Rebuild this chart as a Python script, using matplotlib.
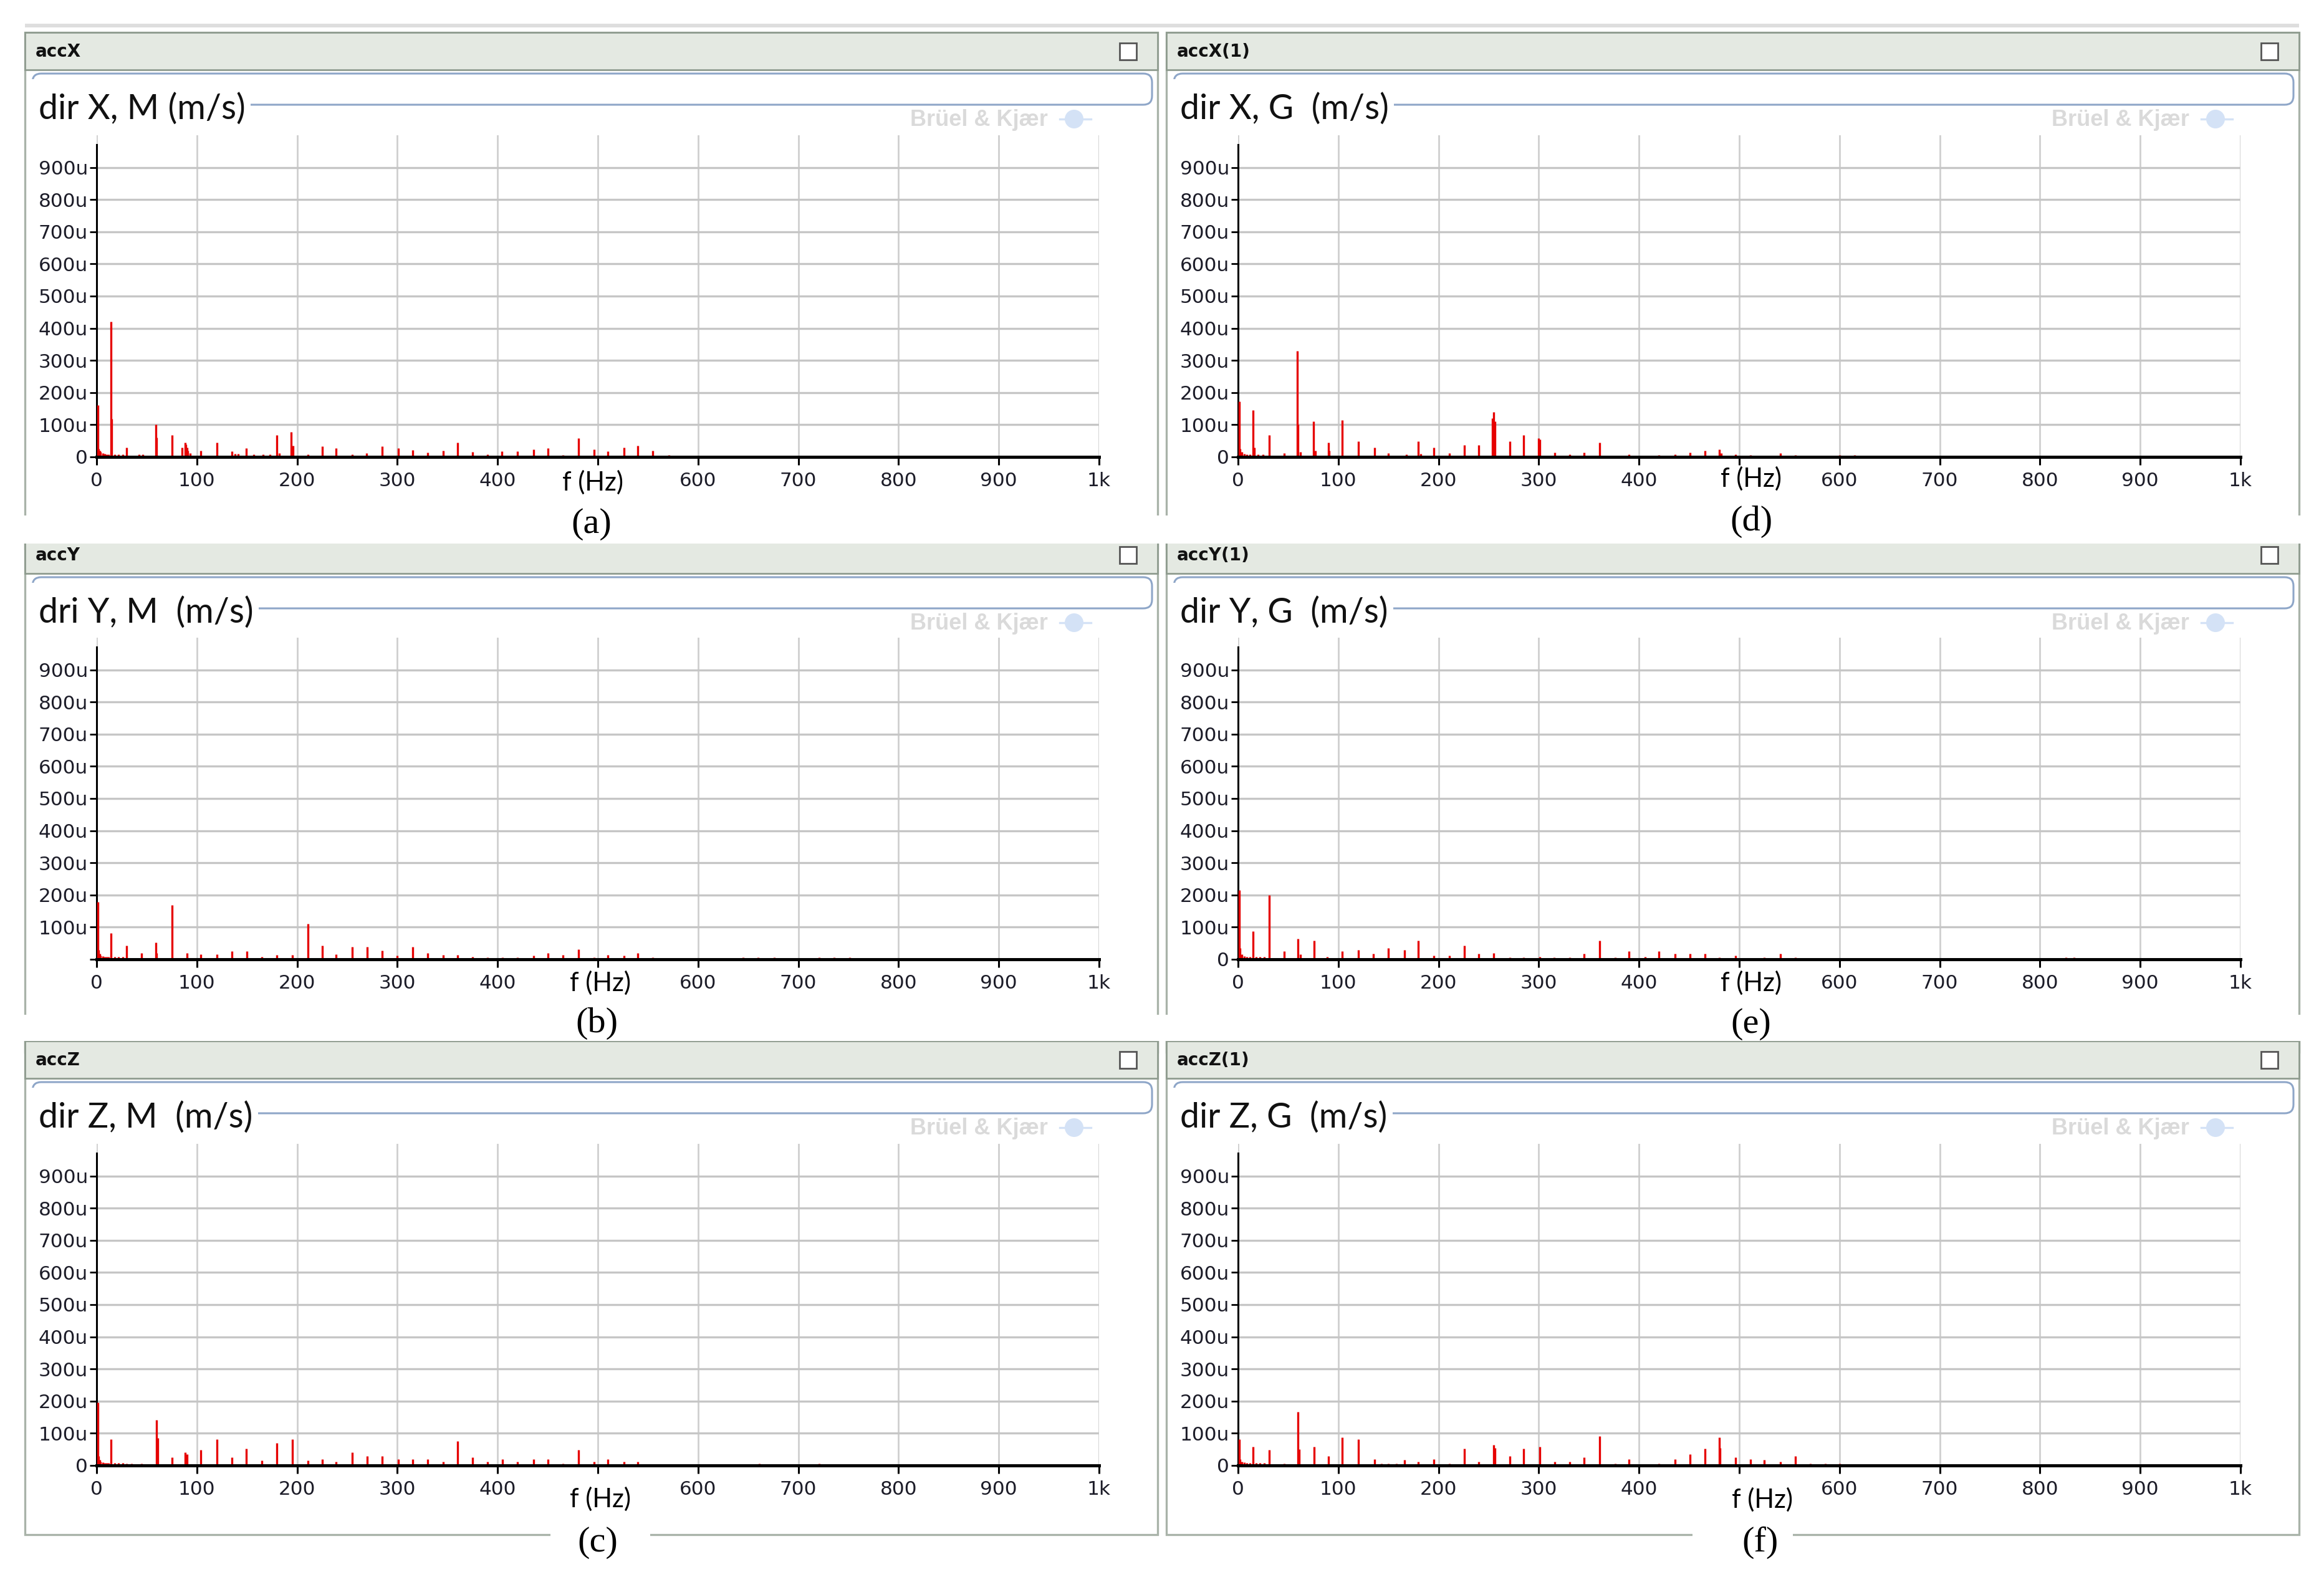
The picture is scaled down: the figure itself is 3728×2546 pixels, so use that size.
import matplotlib
matplotlib.use('Agg')
import matplotlib.pyplot as plt
from matplotlib.patches import Rectangle, FancyBboxPatch, Circle

# spectra: frequency (Hz) and amplitude (u m/s)
f_a = [1, 2, 3, 4, 6, 8, 10, 12, 14, 15, 18, 22, 26, 30, 42, 46, 59, 60, 75, 85,
       88, 89, 90, 91, 93, 104, 120, 135, 138, 141, 149, 157, 166, 173, 180, 182, 194, 196, 211, 225,
       239, 255, 269, 285, 301, 315, 330, 346, 360, 375, 390, 404, 420, 436, 450, 465, 481, 496, 510, 526,
       540, 555, 571]
amp_a = [160, 25, 20, 15, 12, 10, 8, 8, 420, 118, 8, 8, 8, 30, 8, 8, 100, 60, 67, 30,
         44, 38, 30, 20, 12, 20, 44, 17, 10, 10, 27, 8, 8, 8, 67, 12, 78, 35, 8, 32,
         27, 8, 12, 32, 27, 22, 14, 20, 44, 15, 8, 18, 18, 23, 28, 6, 59, 24, 18, 30,
         35, 20, 5]

f_b = [1, 2, 3, 4, 6, 8, 10, 12, 14, 18, 22, 26, 30, 45, 59, 60, 75, 90, 104, 120,
       135, 150, 165, 180, 195, 211, 225, 239, 255, 270, 285, 300, 315, 330, 346, 360, 375, 390, 405, 420,
       436, 450, 465, 481, 496, 510, 526, 540, 555, 645, 660, 676, 721, 736, 751]
amp_b = [178, 30, 18, 12, 10, 8, 8, 8, 81, 8, 8, 8, 43, 20, 53, 20, 168, 20, 15, 15,
         25, 25, 8, 14, 14, 111, 43, 15, 38, 38, 27, 12, 38, 20, 14, 14, 8, 6, 5, 5,
         12, 20, 14, 31, 6, 14, 12, 20, 5, 6, 5, 5, 5, 5, 5]

f_c = [1, 2, 3, 4, 6, 8, 10, 12, 14, 18, 22, 26, 30, 35, 45, 60, 61, 75, 88, 90,
       104, 120, 135, 149, 165, 180, 195, 211, 225, 239, 255, 270, 285, 301, 315, 330, 346, 360, 375, 390,
       405, 420, 436, 450, 465, 481, 496, 510, 526, 540, 661, 721]
amp_c = [196, 30, 18, 12, 10, 8, 8, 8, 81, 8, 8, 8, 6, 5, 5, 142, 85, 25, 40, 35,
         49, 81, 25, 53, 15, 69, 81, 15, 20, 12, 40, 30, 30, 20, 20, 20, 12, 75, 25, 12,
         20, 12, 20, 20, 6, 49, 12, 20, 12, 12, 5, 5]

f_d = [1, 2, 4, 6, 9, 12, 15, 16, 20, 25, 31, 46, 59, 60, 62, 75, 77, 90, 91, 104,
       120, 136, 150, 168, 180, 182, 195, 211, 226, 240, 254, 255, 256, 271, 285, 300, 301, 316, 331, 345,
       361, 390, 420, 436, 451, 466, 480, 482, 496, 511, 541, 556, 600, 615]
amp_d = [172, 25, 15, 10, 8, 8, 145, 30, 8, 8, 67, 12, 330, 100, 15, 110, 20, 44, 20, 115,
         48, 30, 12, 8, 48, 10, 30, 12, 37, 37, 120, 139, 110, 48, 67, 59, 55, 14, 8, 14,
         44, 8, 6, 8, 14, 20, 24, 12, 8, 6, 12, 6, 6, 5]

f_e = [1, 2, 4, 6, 9, 12, 15, 18, 22, 26, 31, 46, 60, 62, 76, 89, 104, 120, 135, 150,
       166, 180, 195, 211, 226, 240, 255, 271, 285, 301, 315, 331, 345, 361, 376, 390, 406, 420, 436, 451,
       466, 480, 496, 525, 541, 556, 826, 834]
amp_e = [215, 35, 15, 10, 8, 8, 87, 8, 8, 8, 200, 25, 64, 15, 59, 8, 25, 30, 18, 35,
         30, 59, 12, 12, 42, 18, 20, 6, 5, 8, 6, 5, 18, 59, 6, 25, 8, 25, 18, 18,
         18, 6, 12, 5, 18, 5, 5, 5]

f_f = [1, 2, 4, 6, 9, 12, 15, 18, 22, 26, 31, 46, 60, 61, 76, 90, 104, 120, 136, 143,
       150, 158, 166, 180, 195, 211, 226, 240, 255, 256, 271, 285, 301, 316, 331, 345, 361, 376, 390, 420,
       436, 451, 466, 480, 481, 496, 511, 525, 541, 556, 571, 586, 600]
amp_f = [81, 20, 12, 10, 8, 8, 59, 8, 8, 8, 49, 5, 166, 50, 59, 30, 87, 81, 20, 6,
         6, 6, 18, 12, 20, 5, 53, 12, 63, 55, 30, 53, 59, 12, 12, 25, 91, 6, 20, 6,
         20, 35, 53, 87, 55, 25, 20, 18, 12, 30, 6, 6, 6]

headers = ['accX', 'accY', 'accZ', 'accX(1)', 'accY(1)', 'accZ(1)']
titles = ['dir X, M (m/s)', 'dri Y, M  (m/s)', 'dir Z, M  (m/s)',
          'dir X, G  (m/s)', 'dir Y, G  (m/s)', 'dir Z, G  (m/s)']
captions = ['(a)', '(b)', '(c)', '(d)', '(e)', '(f)']
xticks = [0, 100, 200, 300, 400, 500, 600, 700, 800, 900, 1000]
xticklabels = ['0', '100', '200', '300', '400', '', '600', '700', '800', '900', '1k']
yticks = [0, 100, 200, 300, 400, 500, 600, 700, 800, 900]
yticklabels = ['0', '100u', '200u', '300u', '400u', '500u', '600u', '700u', '800u', '900u']

spectra = [(f_a, amp_a), (f_b, amp_b), (f_c, amp_c), (f_d, amp_d), (f_e, amp_e), (f_f, amp_f)]

W, H = 3728, 2546
fig = plt.figure(figsize=(W / 200, H / 200), dpi=200)
bg = fig.add_axes([0, 0, 1, 1])
bg.set_xlim(0, W)
bg.set_ylim(H, 0)
bg.axis('off')

col_dx = [0, 1831]
row_dy = [0, 808, 1618]
axes_dy = [0, 806, 1618]
fhz_pos = [(951, 774), (963, 1577), (963, 2405), (2809, 768), (2809, 1577), (2827, 2406)]
cap_pos = [(949, 841), (957, 1642), (959, 2475), (2809, 837), (2809, 1643), (2824, 2475)]
cap_gap = [None, None, (883, 1043), None, None, (2715, 2876)]

bg.add_patch(Rectangle((40, 38), 3648, 6, facecolor='#dedede', edgecolor='none'))

for i in range(6):
    c, r = i // 3, i % 3
    dx, dy = col_dx[c], row_dy[r]
    box_bottom = 2462 if r == 2 else 880 + dy
    bg.add_patch(Rectangle((40 + dx, 52 + dy), 1817, box_bottom - 52 - dy,
                           facecolor='white', edgecolor='#a9b3a9', lw=1.2, zorder=1))
    bg.add_patch(Rectangle((40 + dx, 52 + dy), 1817, 60,
                           facecolor='#e4e9e2', edgecolor='#8f9c8f', lw=1.0, zorder=2))
    bg.text(57 + dx, 83 + dy, headers[i], fontsize=10, fontweight='bold',
            family='DejaVu Sans', va='center', ha='left', color='#111111', zorder=3)
    bg.add_patch(Rectangle((1796 + dx, 69 + dy), 27, 27, facecolor='white',
                           edgecolor='#555555', lw=1.0, zorder=3))
    # rounded title frame
    bg.add_patch(FancyBboxPatch((52 + dx, 118 + dy), 1796, 50,
                                boxstyle='round,pad=0,rounding_size=14',
                                facecolor='none', edgecolor='#8ea6c8', lw=1.1, zorder=2))
    bg.add_patch(Rectangle((46 + dx, 127 + dy), 14, 60, facecolor='white',
                           edgecolor='none', zorder=3))
    bg.text(62 + dx, 175 + dy, titles[i], fontsize=20, family='Lato', color='#111111',
            va='center', ha='left', zorder=4,
            bbox=dict(boxstyle='square,pad=0.15', facecolor='white', edgecolor='none'))
    # watermark
    bg.text(1570 + dx, 193 + dy, 'Brüel & Kjær', fontsize=13, fontweight='bold',
            family='Liberation Sans', color='#dadada', ha='center', va='center', zorder=3)
    bg.add_patch(Circle((1723 + dx, 191 + dy), 15, facecolor='#d4e2f6',
                        edgecolor='none', zorder=3))
    bg.plot([1700 + dx, 1750 + dx], [191 + dy, 191 + dy], color='#d4e2f6', lw=1.2, zorder=3)

# white caption strips between rows
bg.add_patch(Rectangle((0, 827), W, 45, facecolor='white', edgecolor='none', zorder=5))
bg.add_patch(Rectangle((0, 1628), W, 42, facecolor='white', edgecolor='none', zorder=5))

for i in range(6):
    c, r = i // 3, i % 3
    if cap_gap[i] is not None:
        x0, x1 = cap_gap[i]
        bg.add_patch(Rectangle((x0, 2440), x1 - x0, 40, facecolor='white',
                               edgecolor='none', zorder=5))
    bg.text(cap_pos[i][0], cap_pos[i][1], captions[i], fontsize=21,
            family='Liberation Serif', ha='center', va='center', zorder=6)
    bg.text(fhz_pos[i][0], fhz_pos[i][1], 'f (Hz)', fontsize=15, family='Lato',
            ha='center', va='center', zorder=6)

    zero = 733 + axes_dy[r]
    ax = fig.add_axes([(155 + col_dx[c]) / W, 1 - zero / H, 1608 / W, 516 / H])
    ax.set_facecolor('none')
    freqs, amps = spectra[i]
    ax.vlines(freqs, 0, amps, colors='#e60000', lw=1.2, zorder=3)
    ax.set_xlim(0, 1000)
    ax.set_ylim(0, 1000)
    ax.set_xticks(xticks)
    ax.set_xticklabels(xticklabels)
    ax.set_yticks(yticks)
    ylab = list(yticklabels)
    if i == 1:
        ylab[0] = ''
    ax.set_yticklabels(ylab)
    ax.grid(axis='x', color='#cfcfcf', lw=1.0, zorder=0)
    ax.grid(axis='y', color='#c6c6c6', lw=1.2, zorder=0)
    ax.set_axisbelow(True)
    for s in ['top', 'right']:
        ax.spines[s].set_visible(False)
    ax.spines['bottom'].set_linewidth(1.8)
    ax.spines['bottom'].set_zorder(4)
    ax.spines['left'].set_linewidth(1.1)
    ax.spines['left'].set_bounds(0, 970)
    ax.tick_params(axis='x', length=4.5, width=1.1, pad=4, labelsize=11.2,
                   labelcolor='#1c1c28')
    ax.tick_params(axis='y', length=4, width=1.0, pad=1, labelsize=11.2,
                   labelcolor='#1c1c28')

fig.savefig('out.png', dpi=200)
